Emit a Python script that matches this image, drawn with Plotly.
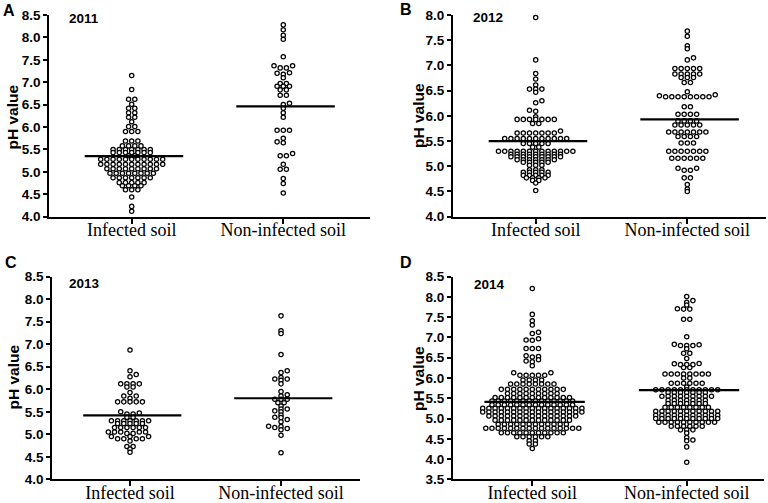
import numpy as np
import plotly.graph_objects as go

# ---------------- data ----------------
categories = ["Infected soil", "Non-infected soil"]
years = ["2011", "2012", "2013", "2014"]
panel_letters = ["A", "B", "C", "D"]

ph_2011_infected = [7.15, 6.84, 6.62, 6.62, 6.51, 6.42, 6.42, 6.32, 6.32, 6.22, 6.22, 6.12, 6.01, 6.01,
                    5.90, 5.90, 5.90, 5.69, 5.69, 5.69, 5.58, 5.58, 5.58, 5.58,
                    5.50, 5.50, 5.50, 5.50, 5.50, 5.50, 5.50,
                    5.43, 5.43, 5.43, 5.43, 5.43, 5.43, 5.43,
                    5.36, 5.36,
                    5.28, 5.28, 5.28, 5.28, 5.28, 5.28, 5.28, 5.28, 5.28, 5.28, 5.28,
                    5.17, 5.17, 5.17, 5.17, 5.17, 5.17, 5.17, 5.17, 5.17, 5.17, 5.17,
                    5.07, 5.07, 5.07, 5.07, 5.07, 5.07, 5.07, 5.07, 5.07,
                    4.97, 4.97, 4.97, 4.97, 4.97, 4.97, 4.97, 4.97,
                    4.87, 4.87, 4.87, 4.87, 4.87, 4.87, 4.87,
                    4.76, 4.76, 4.76, 4.76, 4.76,
                    4.69, 4.69, 4.69, 4.69, 4.60, 4.60, 4.60, 4.44, 4.23, 4.12]
ph_2011_noninfected = [8.28, 8.17, 8.05, 7.96, 7.57, 7.37, 7.37, 7.32, 7.32, 7.21, 7.20, 7.18, 7.10,
                       6.97, 6.97, 6.91, 6.91, 6.91, 6.83, 6.83, 6.71, 6.71, 6.53, 6.50, 6.42, 6.32, 6.22,
                       5.93, 5.93, 5.93, 5.75, 5.67, 5.65, 5.41, 5.36, 5.36, 5.17, 5.06, 5.06,
                       4.85, 4.74, 4.53]

ph_2012_infected = [7.95, 7.11, 6.84, 6.73, 6.61, 6.53, 6.53, 6.53, 6.47, 6.30, 6.26, 6.11, 6.09, 5.98,
                    5.93, 5.93, 5.93, 5.93, 5.93, 5.93, 5.93, 5.85, 5.85,
                    5.66, 5.66, 5.66, 5.66, 5.66, 5.66, 5.66, 5.70,
                    5.55, 5.55, 5.55, 5.55, 5.55, 5.55, 5.55, 5.55, 5.55, 5.55, 5.55,
                    5.45, 5.45, 5.45, 5.45, 5.45, 5.38, 5.38,
                    5.30, 5.30, 5.30, 5.30, 5.30, 5.30, 5.30, 5.30, 5.30, 5.30, 5.30, 5.30, 5.30,
                    5.24, 5.24, 5.24, 5.24, 5.24, 5.24, 5.24, 5.24, 5.24,
                    5.19, 5.19, 5.19, 5.19, 5.19, 5.19, 5.19, 5.19, 5.19,
                    5.13, 5.13, 5.13, 5.13, 5.13, 5.13, 5.13,
                    5.08, 5.08, 5.08, 5.08, 5.08, 5.02, 5.02, 5.02,
                    4.93, 4.93, 4.93, 4.88, 4.88, 4.88, 4.88, 4.88,
                    4.82, 4.82, 4.82, 4.82, 4.82, 4.77, 4.77, 4.77, 4.77,
                    4.72, 4.72, 4.67, 4.52]
ph_2012_noninfected = [7.68, 7.58, 7.39, 7.33, 7.15, 7.11,
                       6.94, 6.94, 6.94, 6.94, 6.94, 6.83, 6.83, 6.83, 6.83, 6.83,
                       6.76, 6.76, 6.76, 6.66, 6.66, 6.48,
                       6.38, 6.38, 6.38, 6.38, 6.38, 6.38, 6.38, 6.38, 6.40, 6.42,
                       6.18, 6.18, 6.03, 6.03, 6.03, 6.03, 5.90, 5.90, 5.90, 5.90,
                       5.82, 5.82, 5.82, 5.82, 5.82, 5.68, 5.68, 5.68, 5.68, 5.68, 5.68, 5.68,
                       5.59, 5.59, 5.59, 5.59, 5.46, 5.46, 5.46,
                       5.30, 5.30, 5.30, 5.30, 5.30, 5.30, 5.30, 5.16, 5.16, 5.16, 5.16, 5.16, 5.16,
                       4.96, 4.96, 4.92, 4.92, 4.77, 4.77, 4.64, 4.55, 4.50]

ph_2013_infected = [6.87, 6.41, 6.33, 6.28, 6.12, 6.12, 6.12, 6.12, 6.05, 6.05, 5.93, 5.85, 5.85, 5.80,
                    5.72, 5.72, 5.72, 5.72, 5.72, 5.50, 5.47, 5.45, 5.45, 5.38, 5.38,
                    5.30, 5.30, 5.30, 5.30, 5.30, 5.30, 5.30, 5.24, 5.24, 5.24, 5.24, 5.24,
                    5.15, 5.15, 5.15, 5.15, 5.15, 5.15, 5.05, 5.05, 5.05, 5.05, 5.05, 5.02, 5.02,
                    4.95, 4.95, 4.95, 4.90, 4.90, 4.90, 4.90, 4.85, 4.73, 4.73, 4.67, 4.60]
ph_2013_noninfected = [7.63, 7.30, 7.24, 6.77, 6.41, 6.37, 6.26, 6.23, 6.23, 6.20, 6.12, 5.95, 5.88, 5.85,
                       5.78, 5.78, 5.78, 5.70, 5.70, 5.63, 5.56, 5.56, 5.52, 5.50, 5.43, 5.38, 5.37,
                       5.33, 5.28, 5.18, 5.17, 5.15, 5.13, 5.10, 4.98, 4.59]

ph_2014_infected = [8.21, 7.57, 7.41, 7.31, 7.13, 7.10, 6.97, 6.94, 6.93, 6.73, 6.73, 6.73,
                    6.55, 6.53, 6.52, 6.45, 6.42, 6.40, 6.30, 6.13, 6.13,
                    6.07, 6.07, 6.07, 6.07, 6.07, 5.95, 5.95, 5.95, 5.95,
                    5.85, 5.85, 5.85, 5.85, 5.85, 5.85, 5.85, 5.85,
                    5.72, 5.72, 5.72, 5.72, 5.72, 5.72, 5.72, 5.72, 5.72, 5.72, 5.72,
                    5.62, 5.62, 5.62, 5.62, 5.62, 5.62, 5.62, 5.62, 5.62,
                    5.52, 5.52, 5.52, 5.52, 5.52, 5.52, 5.52, 5.52, 5.52, 5.52, 5.52, 5.52, 5.52,
                    5.43, 5.43, 5.43, 5.43, 5.43, 5.43, 5.43, 5.43, 5.43, 5.43, 5.43, 5.43, 5.43, 5.43,
                    5.34, 5.34, 5.34, 5.34, 5.34, 5.34, 5.34, 5.34, 5.34, 5.34, 5.34, 5.34, 5.34, 5.34,
                    5.25, 5.25, 5.25, 5.25, 5.25, 5.25, 5.25, 5.25, 5.25, 5.25, 5.25, 5.25, 5.25, 5.25, 5.25, 5.25, 5.25,
                    5.16, 5.16, 5.16, 5.16, 5.16, 5.16, 5.16, 5.16, 5.16, 5.16, 5.16, 5.16, 5.16, 5.16, 5.16, 5.16, 5.16,
                    5.06, 5.06, 5.06, 5.06, 5.06, 5.06, 5.06, 5.06, 5.06, 5.06, 5.06, 5.06, 5.06, 5.06, 5.06,
                    4.96, 4.96, 4.96, 4.96, 4.96, 4.96, 4.96, 4.96, 4.96, 4.96, 4.96, 4.96, 4.96,
                    4.86, 4.86, 4.86, 4.86, 4.86, 4.86, 4.86, 4.86, 4.86, 4.86, 4.86, 4.86,
                    4.76, 4.76, 4.76, 4.76, 4.76, 4.76, 4.76, 4.76, 4.76, 4.76, 4.76, 4.76, 4.76, 4.76, 4.76, 4.76,
                    4.65, 4.65, 4.65, 4.65, 4.65, 4.65, 4.65, 4.65, 4.65, 4.65, 4.65,
                    4.55, 4.55, 4.55, 4.55, 4.55, 4.55, 4.45, 4.45, 4.37, 4.37, 4.26]
ph_2014_noninfected = [8.01, 7.91, 7.87, 7.80, 7.71, 7.70, 7.70, 7.45, 7.45, 7.02,
                       6.83, 6.82, 6.80, 6.80, 6.80, 6.72, 6.61, 6.61, 6.48,
                       6.36, 6.35, 6.33, 6.33, 6.33, 6.26, 6.26,
                       6.10, 6.10, 6.10, 6.10, 6.10, 6.10, 6.10, 6.10, 6.00, 6.00,
                       5.87, 5.87, 5.87, 5.87, 5.87, 5.87, 5.78,
                       5.71, 5.71, 5.71, 5.71, 5.71, 5.71, 5.71, 5.71, 5.71, 5.71, 5.71,
                       5.64, 5.64, 5.64, 5.64, 5.64, 5.64, 5.64,
                       5.55, 5.55, 5.55, 5.55, 5.55, 5.55, 5.55, 5.55, 5.55,
                       5.45, 5.45, 5.45, 5.45, 5.45, 5.45, 5.45,
                       5.37, 5.37, 5.37, 5.37, 5.37, 5.37, 5.37,
                       5.28, 5.28, 5.28, 5.28, 5.28, 5.28, 5.28, 5.28,
                       5.18, 5.18, 5.18, 5.18, 5.18, 5.18, 5.18, 5.18, 5.18, 5.18, 5.18,
                       5.08, 5.08, 5.08, 5.08, 5.08, 5.08, 5.08, 5.08, 5.08, 5.08, 5.08,
                       5.00, 5.00, 5.00, 5.00, 5.00, 5.00, 5.00, 5.00, 5.00, 5.00, 5.00,
                       4.91, 4.91, 4.91, 4.91, 4.91, 4.91, 4.91, 4.91, 4.91, 4.91,
                       4.81, 4.81, 4.81, 4.81, 4.81, 4.81, 4.72, 4.72, 4.72,
                       4.64, 4.53, 4.47, 4.45, 4.30, 3.92]

center_2011 = [5.35, 6.46]
center_2012 = [5.50, 5.93]
center_2013 = [5.42, 5.80]
center_2014 = [5.41, 5.70]

yticks_2011 = [4.0, 4.5, 5.0, 5.5, 6.0, 6.5, 7.0, 7.5, 8.0, 8.5]
yticks_2012 = [4.0, 4.5, 5.0, 5.5, 6.0, 6.5, 7.0, 7.5, 8.0]
yticks_2013 = [4.0, 4.5, 5.0, 5.5, 6.0, 6.5, 7.0, 7.5, 8.0, 8.5]
yticks_2014 = [3.5, 4.0, 4.5, 5.0, 5.5, 6.0, 6.5, 7.0, 7.5, 8.0, 8.5]

panel_data = [
    (ph_2011_infected, ph_2011_noninfected, center_2011, yticks_2011),
    (ph_2012_infected, ph_2012_noninfected, center_2012, yticks_2012),
    (ph_2013_infected, ph_2013_noninfected, center_2013, yticks_2013),
    (ph_2014_infected, ph_2014_noninfected, center_2014, yticks_2014),
]

# ---------------- layout geometry (pixels) ----------------
W, H = 768, 503
geom = [
    dict(x0=49.3, x1=370.0, top=15.0, bottom=216.7, xr=(-0.5435, 1.572), yr=(4.0, 8.5),
         letter=(9, 10), year=(84, 18), title=(12.5, 117)),
    dict(x0=453.0, x1=766.0, top=15.0, bottom=216.7, xr=(-0.5455, 1.519), yr=(4.0, 8.0),
         letter=(406, 9), year=(488, 17.5), title=(418, 116)),
    dict(x0=52.3, x1=360.0, top=276.7, bottom=479.3, xr=(-0.5146, 1.523), yr=(4.0, 8.5),
         letter=(11, 262), year=(84, 283), title=(12.5, 377)),
    dict(x0=453.0, x1=764.0, top=276.7, bottom=479.3, xr=(-0.5136, 1.5006), yr=(3.5, 8.5),
         letter=(406, 262), year=(489, 284), title=(418, 379)),
]


def swarm_offsets(values, py_per_unit, sx=6.2, sy=2.5):
    """Binned dot-plot layout: horizontal pixel offsets for each value."""
    vals = np.asarray(values, dtype=float)
    order = np.argsort(vals, kind="stable")
    off = np.zeros(len(vals))
    placed_x, placed_y = [], []
    flip = 1.0
    k = 0
    n_tot = len(order)
    while k < n_tot:
        j = k
        while j < n_tot and vals[order[j]] == vals[order[k]]:
            j += 1
        grp = order[k:j]
        y = vals[grp[0]] * py_per_unit
        pxa = np.array(placed_x)
        pya = np.array(placed_y)
        near = (np.abs(pya - y) < sy) if len(pxa) else np.array([], dtype=bool)
        if not near.any():
            n = len(grp)
            for m, idx in enumerate(grp):
                off[idx] = (m - (n - 1) / 2) * sx
                placed_x.append(off[idx])
                placed_y.append(y)
        else:
            for idx in grp:
                pxa = np.array(placed_x)
                pya = np.array(placed_y)
                nx = pxa[np.abs(pya - y) < sy]
                cands = np.concatenate([[0.0], nx - sx, nx + sx])
                valid = [c for c in cands if np.all(np.abs(nx - c) >= sx - 1e-9)]
                best = min(abs(c) for c in valid)
                ties = sorted(set(round(c, 6) for c in valid if abs(abs(c) - best) < 1e-6))
                if len(ties) > 1:
                    c = ties[-1] if flip > 0 else ties[0]
                    flip = -flip
                else:
                    c = ties[0]
                off[idx] = c
                placed_x.append(c)
                placed_y.append(y)
        k = j
    return off


fig = go.Figure()
layout = dict(width=W, height=H, margin=dict(l=0, r=0, t=0, b=0, autoexpand=False),
              paper_bgcolor="white", plot_bgcolor="white", showlegend=False)
annotations = []

for i, (g, (inf, non, centers, yt)) in enumerate(zip(geom, panel_data)):
    sfx = "" if i == 0 else str(i + 1)
    xref, yref = "x" + sfx, "y" + sfx
    ppx = (g["x1"] - g["x0"]) / (g["xr"][1] - g["xr"][0])
    ppy = (g["bottom"] - g["top"]) / (g["yr"][1] - g["yr"][0])

    for cat_i, vals in enumerate([inf, non]):
        offs = swarm_offsets(vals, ppy)
        fig.add_trace(go.Scatter(
            x=cat_i + offs / ppx, y=vals, mode="markers", xaxis=xref, yaxis=yref,
            marker=dict(symbol="circle", size=4.3, color="white",
                        line=dict(color="black", width=1.25)),
            cliponaxis=False, hoverinfo="skip"))
    for cat_i, c in enumerate(centers):
        fig.add_trace(go.Scatter(
            x=[cat_i - 0.31, cat_i + 0.34], y=[c, c], mode="lines", xaxis=xref, yaxis=yref,
            line=dict(color="black", width=2.2), hoverinfo="skip"))

    layout["xaxis" + sfx] = dict(
        domain=[g["x0"] / W, g["x1"] / W], range=list(g["xr"]), anchor=yref,
        tickvals=[0, 1], ticktext=categories, ticks="outside", ticklen=5, tickwidth=2,
        tickcolor="black", showline=True, linewidth=2, linecolor="black",
        showgrid=False, zeroline=False, fixedrange=True, automargin=False,
        ticklabelstandoff=-9,
        tickfont=dict(family="Liberation Serif", size=18, color="black"))
    layout["yaxis" + sfx] = dict(
        domain=[1 - g["bottom"] / H, 1 - g["top"] / H], range=list(g["yr"]), anchor=xref,
        tickvals=yt, ticktext=[f"{v:.1f}" for v in yt], ticks="outside", ticklen=4, tickwidth=2,
        tickcolor="black", showline=True, linewidth=2, linecolor="black",
        showgrid=False, zeroline=False, fixedrange=True, automargin=False,
        tickfont=dict(family="Liberation Sans", size=13.5, color="black", weight="bold"))

    lx, ly = g["letter"]
    annotations.append(dict(text=panel_letters[i], x=lx / W, y=1 - ly / H, xref="paper", yref="paper",
                            showarrow=False, xanchor="center", yanchor="middle",
                            font=dict(family="Liberation Sans", size=16, color="black", weight="bold")))
    yx, yy = g["year"]
    annotations.append(dict(text=years[i], x=yx / W, y=1 - yy / H, xref="paper", yref="paper",
                            showarrow=False, xanchor="center", yanchor="middle",
                            font=dict(family="Liberation Sans", size=13.5, color="black", weight="bold")))
    tx, ty = g["title"]
    annotations.append(dict(text="pH value", x=tx / W, y=1 - ty / H, xref="paper", yref="paper",
                            showarrow=False, xanchor="center", yanchor="middle", textangle=-90,
                            font=dict(family="Liberation Sans", size=15.5, color="black", weight="bold")))

layout["annotations"] = annotations
fig.update_layout(**layout)
fig.write_html("out.html", config={"displayModeBar": False},
               post_script="document.body.style.margin='0px';document.body.style.overflow='hidden';")
